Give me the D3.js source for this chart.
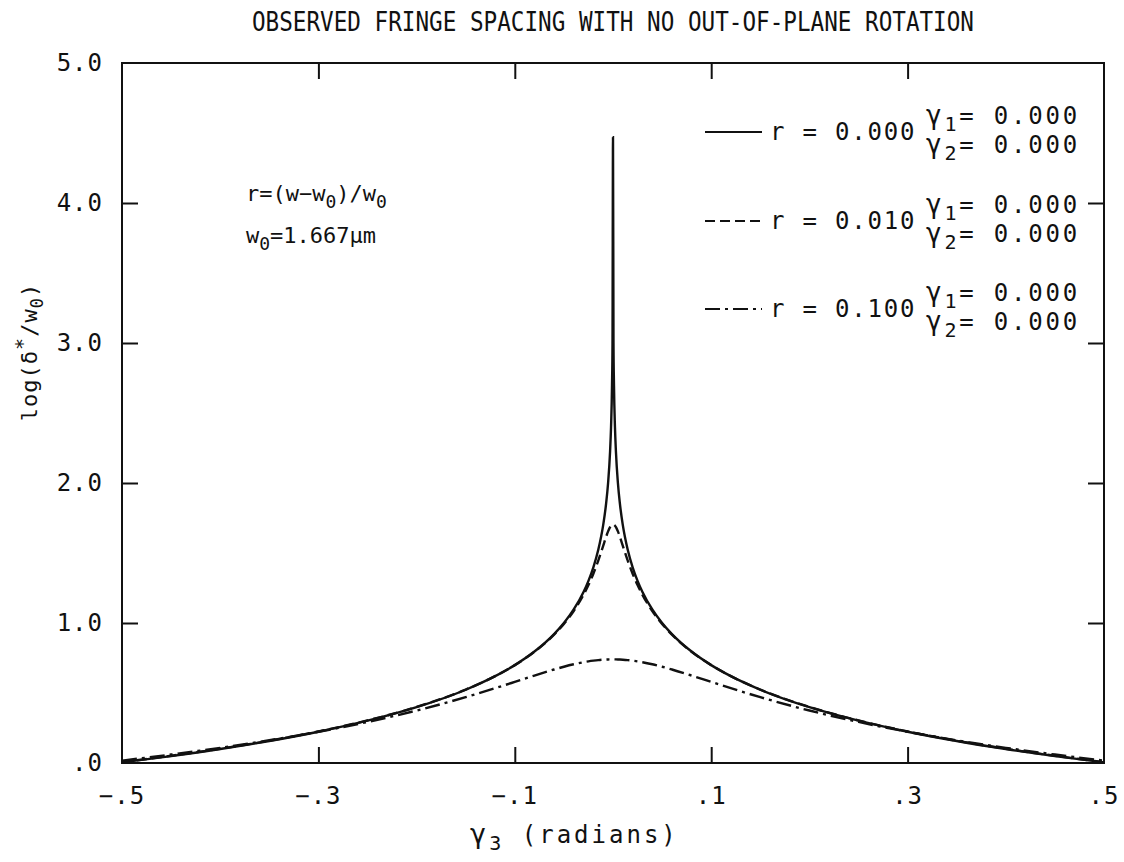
<!DOCTYPE html>
<html>
<head>
<meta charset="utf-8">
<script src="https://cdn.jsdelivr.net/npm/d3@7"></script>
<style>
  html, body { margin: 0; padding: 0; background: #fff; }
  svg { display: block; }
  text { font-family: "DejaVu Sans Mono", monospace; fill: #111; }
</style>
</head>
<body>
<svg id="chart" width="1124" height="862"></svg>
<script>
// ---- data ----
const gamma3 = [-0.5,-0.45,-0.4,-0.35,-0.3,-0.25,-0.2,-0.15,-0.12,-0.1,-0.08,-0.06,-0.05,-0.04,-0.03,-0.025,-0.02,-0.015,-0.01,-0.007,-0.005,-0.003,-0.002,-0.001,-0.0005,
  0,
  0.0005,0.001,0.002,0.003,0.005,0.007,0.01,0.015,0.02,0.025,0.03,0.04,0.05,0.06,0.08,0.1,0.12,0.15,0.2,0.25,0.3,0.35,0.4,0.45,0.5];
const logR000 = [0.0045,0.0494,0.0998,0.1571,0.2235,0.3022,0.3987,0.5233,0.6201,0.6992,0.7960,0.9209,1.0000,1.0969,1.2218,1.3010,1.3979,1.5229,1.6990,1.8539,2.0000,2.2218,2.3979,2.6990,3.0000,
  4.47,
  3.0000,2.6990,2.3979,2.2218,2.0000,1.8539,1.6990,1.5229,1.3979,1.3010,1.2218,1.0969,1.0000,0.9209,0.7960,0.6992,0.6201,0.5233,0.3987,0.3022,0.2235,0.1571,0.0998,0.0494,0.0045];
const logR010 = [0.0066,0.0515,0.1018,0.1591,0.2254,0.3040,0.4003,0.5245,0.6207,0.6992,0.7948,0.9172,0.9938,1.0860,1.2013,1.2712,1.3521,1.4458,1.5517,1.6160,1.6544,1.6844,1.6947,1.7011,1.7027,
  1.7033,
  1.7027,1.7011,1.6947,1.6844,1.6544,1.6160,1.5517,1.4458,1.3521,1.2712,1.2013,1.0860,0.9938,0.9172,0.7948,0.6992,0.6207,0.5245,0.4003,0.3040,0.2254,0.1591,0.1018,0.0515,0.0066];
const logR100 = [0.0173,0.0604,0.1084,0.1621,0.2231,0.2932,0.3748,0.4702,0.5344,0.5793,0.6247,0.6679,0.6877,0.7052,0.7199,0.7260,0.7310,0.7351,0.7380,0.7392,0.7398,0.7402,0.7403,0.7404,0.7404,
  0.7404,
  0.7404,0.7404,0.7403,0.7402,0.7398,0.7392,0.7380,0.7351,0.7310,0.7260,0.7199,0.7052,0.6877,0.6679,0.6247,0.5793,0.5344,0.4702,0.3748,0.2932,0.2231,0.1621,0.1084,0.0604,0.0173];

const xTicks = [-0.5,-0.3,-0.1,0.1,0.3,0.5];
const xTickLabels = ["\u2212.5","\u2212.3","\u2212.1",".1",".3",".5"];
const yTicks = [0,1,2,3,4,5];
const yTickLabels = [".0","1.0","2.0","3.0","4.0","5.0"];
const seriesNames = ["0.000","0.010","0.100"];
const gamma1Values = ["0.000","0.000","0.000"];
const gamma2Values = ["0.000","0.000","0.000"];
const dashes = [null, "10,5", "15,5,3,5"];

// ---- layout ----
const L = 122, R = 1104, T = 63, B = 763;
const svg = d3.select("#chart");
const x = d3.scaleLinear().domain([-0.5, 0.5]).range([L, R]);
const y = d3.scaleLinear().domain([0, 5]).range([B, T]);

// title
svg.append("text").attr("x", 613).attr("y", 31).attr("text-anchor", "middle")
  .attr("font-size", 26).attr("textLength", 722).attr("lengthAdjust", "spacingAndGlyphs")
  .text("OBSERVED FRINGE SPACING WITH NO OUT-OF-PLANE ROTATION");

// frame
svg.append("rect").attr("x", L).attr("y", T).attr("width", R - L).attr("height", B - T)
  .attr("fill", "none").attr("stroke", "#111").attr("stroke-width", 2);

const tl = 16;
const innerX = xTicks.filter(v => v > -0.5 && v < 0.5);
const innerY = yTicks.filter(v => v > 0 && v < 5);
// axes via d3 (ticks drawn inward)
svg.append("g").attr("transform", `translate(0,${B})`)
  .call(d3.axisTop(x).tickValues(innerX).tickSize(tl).tickFormat(""))
  .call(g => g.select(".domain").remove());
svg.append("g").attr("transform", `translate(0,${T})`)
  .call(d3.axisBottom(x).tickValues(innerX).tickSize(tl).tickFormat(""))
  .call(g => g.select(".domain").remove());
svg.append("g").attr("transform", `translate(${L},0)`)
  .call(d3.axisRight(y).tickValues(innerY).tickSize(tl).tickFormat(""))
  .call(g => g.select(".domain").remove());
svg.append("g").attr("transform", `translate(${R},0)`)
  .call(d3.axisLeft(y).tickValues(innerY).tickSize(tl).tickFormat(""))
  .call(g => g.select(".domain").remove());
svg.selectAll(".tick line").attr("stroke", "#111").attr("stroke-width", 2);

// tick labels
svg.append("g").selectAll("text").data(xTicks).join("text")
  .attr("x", d => x(d)).attr("y", 804).attr("text-anchor", "middle")
  .attr("font-size", 24).attr("letter-spacing", 1)
  .text((d, i) => xTickLabels[i]);
svg.append("g").selectAll("text").data(yTicks).join("text")
  .attr("x", 103).attr("y", d => y(d) + 8).attr("text-anchor", "end")
  .attr("font-size", 24).attr("letter-spacing", 1)
  .text((d, i) => yTickLabels[i]);

// axis titles
const xt = svg.append("text").attr("x", 470).attr("y", 843).attr("font-size", 24).attr("letter-spacing", 3);
xt.append("tspan").attr("font-size", 27).text("\u03b3");
xt.append("tspan").attr("dy", 7).attr("font-size", 20).text("3");
xt.append("tspan").attr("dy", -7).text(" (radians)");

const yt = svg.append("text").attr("transform", "translate(37,352) rotate(-90)")
  .attr("text-anchor", "middle").attr("font-size", 22).attr("letter-spacing", 1);
yt.append("tspan").text("log(\u03b4");
yt.append("tspan").attr("dy", -8).attr("font-size", 20).text("*");
yt.append("tspan").attr("dy", 8).text("/w");
yt.append("tspan").attr("dy", 6).attr("font-size", 17).text("0");
yt.append("tspan").attr("dy", -6).text(")");

// curves
const series = [logR000, logR010, logR100];
const line = d3.line().x(d => x(d[0])).y(d => y(d[1])).curve(d3.curveMonotoneX);
series.forEach((vals, i) => {
  svg.append("path").datum(gamma3.map((g, k) => [g, vals[k]]))
    .attr("d", line).attr("fill", "none").attr("stroke", "#111")
    .attr("stroke-width", 2.4).attr("stroke-dasharray", dashes[i]);
});

// annotations
const a1 = svg.append("text").attr("x", 246).attr("y", 201).attr("font-size", 22);
a1.append("tspan").text("r=(w\u2212w");
a1.append("tspan").attr("dy", 7).attr("font-size", 18).text("0");
a1.append("tspan").attr("dy", -7).text(")/w");
a1.append("tspan").attr("dy", 7).attr("font-size", 18).text("0");
const a2 = svg.append("text").attr("x", 246).attr("y", 243).attr("font-size", 22);
a2.append("tspan").text("w");
a2.append("tspan").attr("dy", 7).attr("font-size", 18).text("0");
a2.append("tspan").attr("dy", -7).text("=1.667\u00b5m");

// legend
const rowY = [117, 206, 294];
seriesNames.forEach((nm, i) => {
  const ly = rowY[i] + 15;
  svg.append("line").attr("x1", 705).attr("x2", 762).attr("y1", ly).attr("y2", ly)
    .attr("stroke", "#111").attr("stroke-width", 2).attr("stroke-dasharray", dashes[i]);
  svg.append("text").attr("x", 770).attr("y", ly + 8).attr("font-size", 24).attr("letter-spacing", 1.8)
    .text("r = " + nm);
  const g1 = svg.append("text").attr("x", 926).attr("y", rowY[i] + 7).attr("font-size", 24).attr("letter-spacing", 2.8);
  g1.append("tspan").attr("font-size", 26).text("\u03b3");
  g1.append("tspan").attr("dy", 7).attr("font-size", 20).text("1");
  g1.append("tspan").attr("dy", -7).text("=  " + gamma1Values[i]);
  const g2 = svg.append("text").attr("x", 926).attr("y", rowY[i] + 36).attr("font-size", 24).attr("letter-spacing", 2.8);
  g2.append("tspan").attr("font-size", 26).text("\u03b3");
  g2.append("tspan").attr("dy", 7).attr("font-size", 20).text("2");
  g2.append("tspan").attr("dy", -7).text("=  " + gamma2Values[i]);
});
</script>
</body>
</html>
